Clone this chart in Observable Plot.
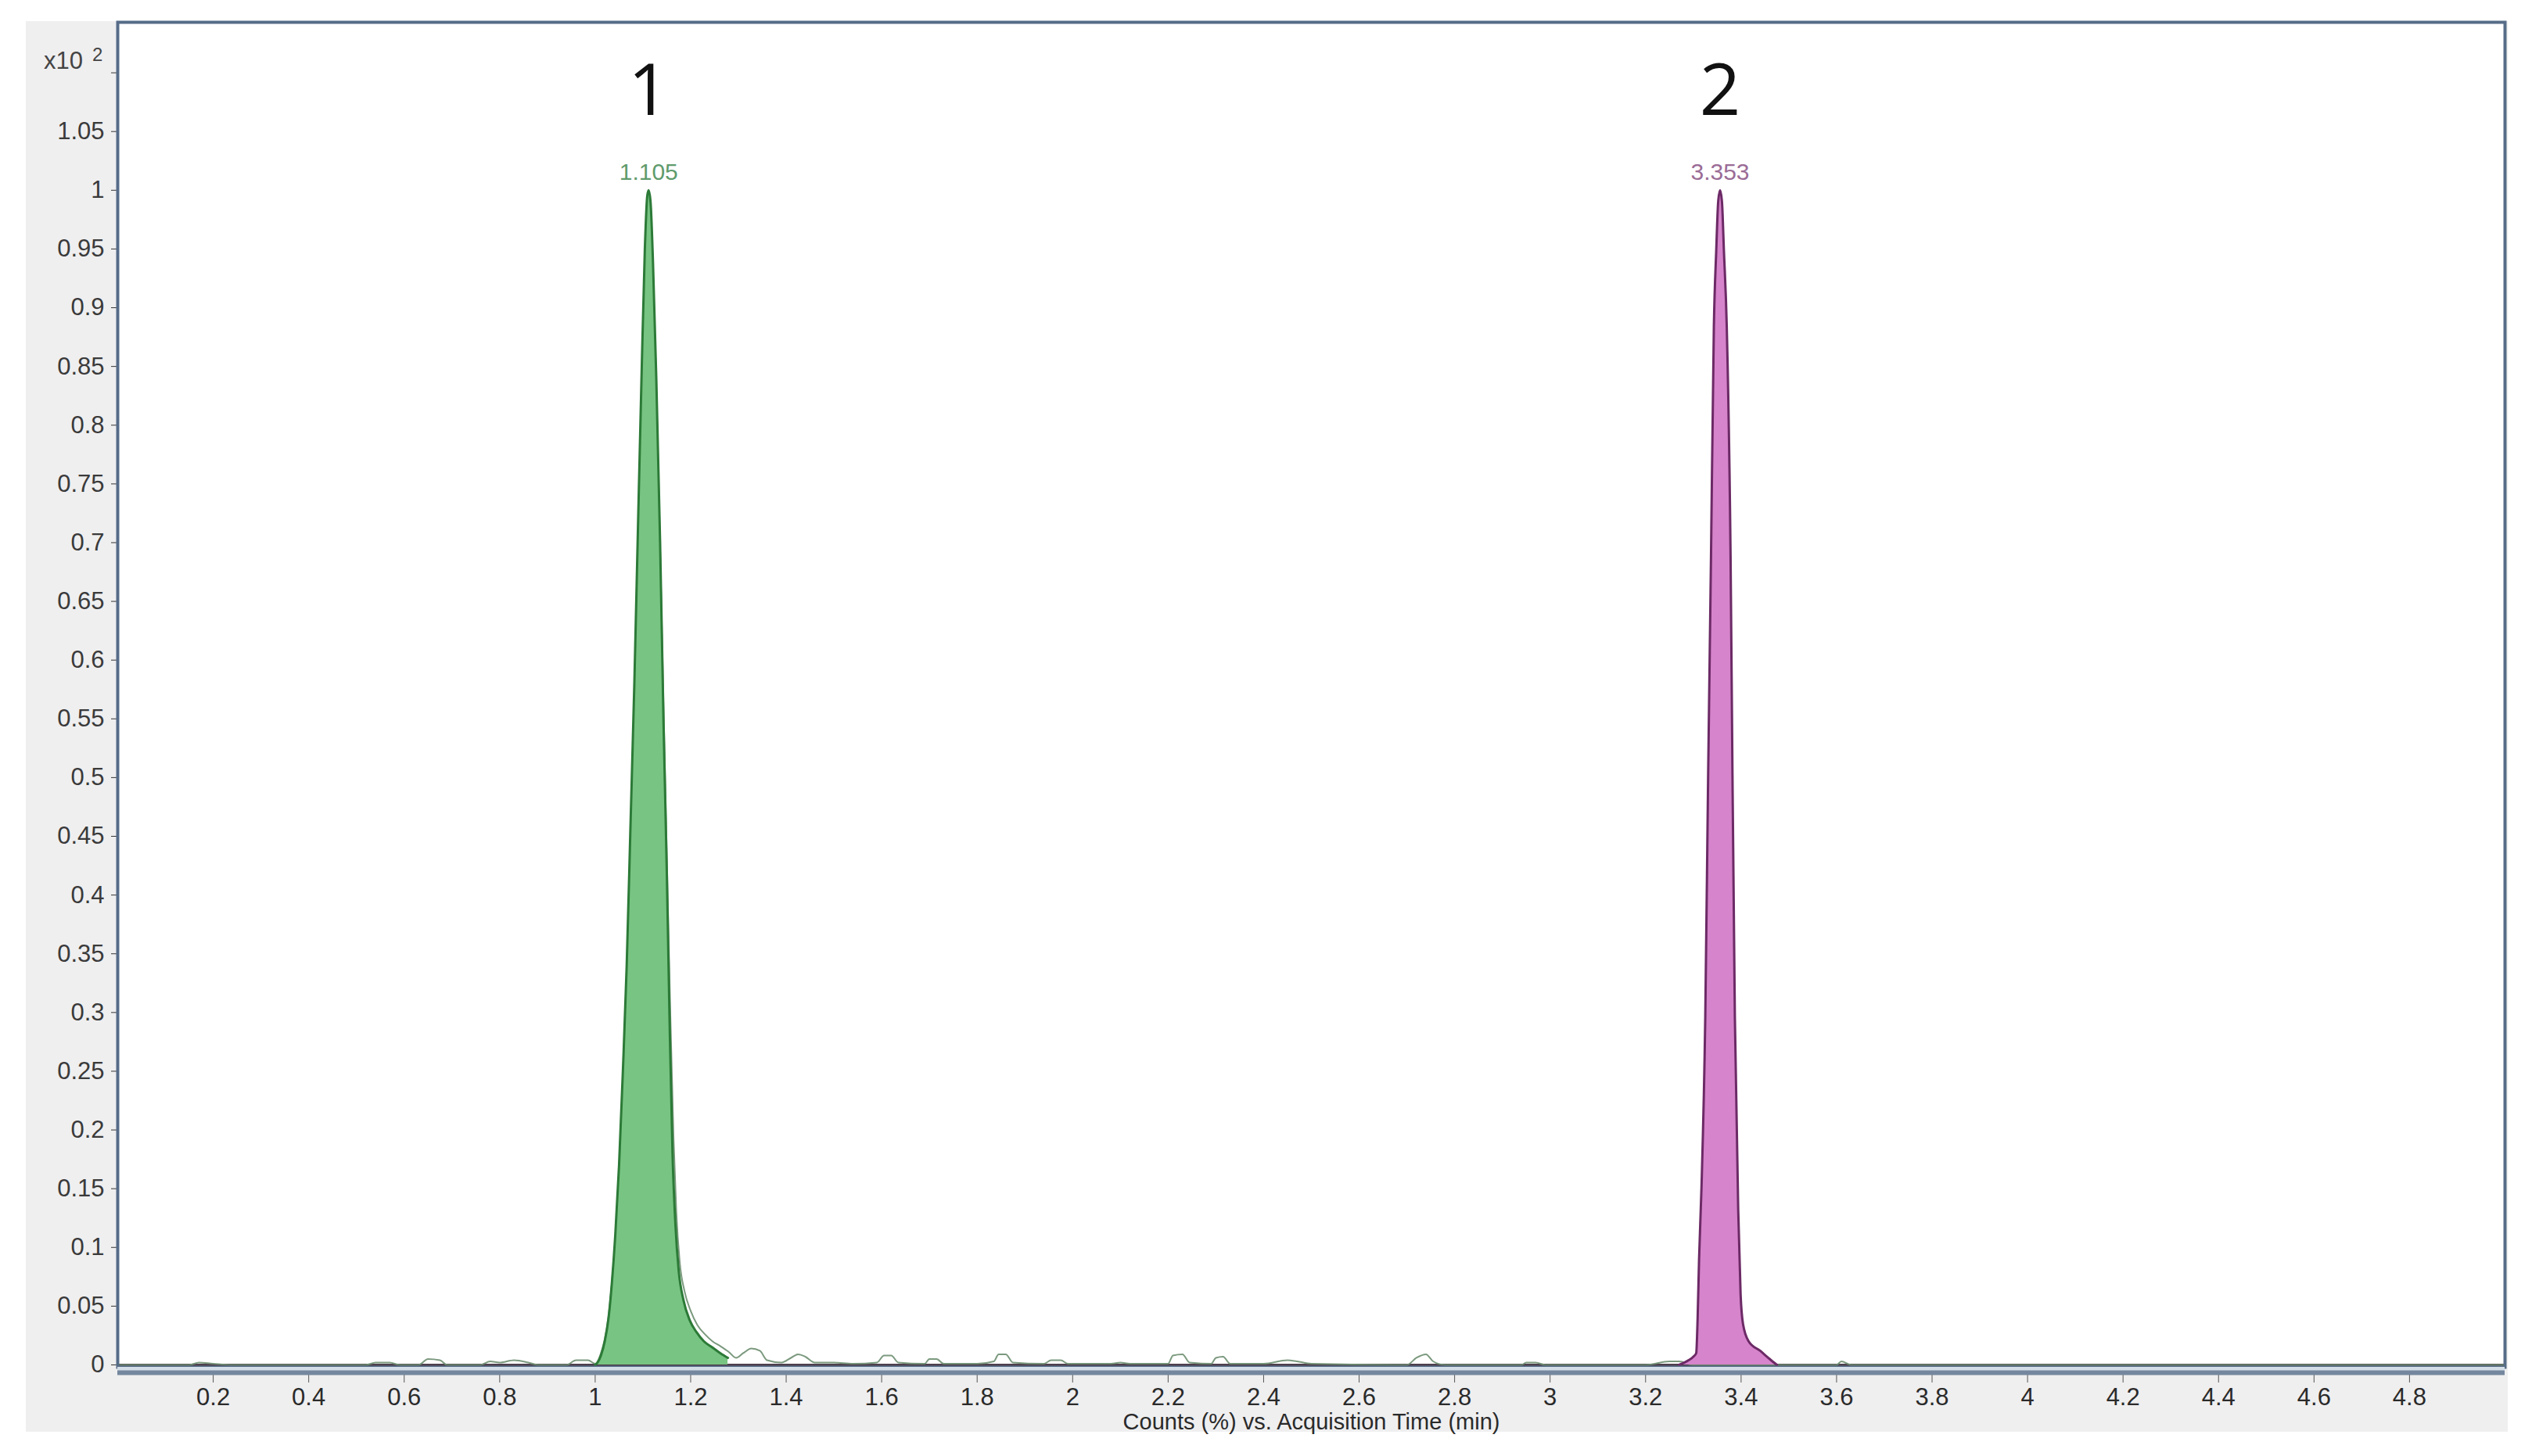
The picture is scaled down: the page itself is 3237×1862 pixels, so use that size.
<!DOCTYPE html>
<html>
<head>
<meta charset="utf-8">
<script src="https://cdn.jsdelivr.net/npm/d3@7"></script>
<script src="https://cdn.jsdelivr.net/npm/@observablehq/plot@0.6"></script>
<style>
  html, body { margin: 0; padding: 0; background: #ffffff; }
  #wrap { position: relative; width: 3237px; height: 1862px; overflow: hidden; }
  #panel { position: absolute; left: 33px; top: 27px; width: 3173px; height: 1804px; background: #efeff0; }
  #chart { position: absolute; left: 0; top: 0; }
  #expo { position: absolute; left: 56px; top: 60px; font-family: "Liberation Sans", Arial, sans-serif; font-size: 31px; color: #444; white-space: nowrap; }
  #expo sup { font-size: 24px; position: relative; top: -4px; margin-left: 12px; vertical-align: top; }
</style>
</head>
<body>
<div id="wrap">
  <div id="panel"></div>
  <div id="chart"></div>
  <div id="expo">x10<sup>2</sup></div>
</div>
<script>
// ---- Data ----
// Tick values
const xTicks = [0.2, 0.4, 0.6, 0.8, 1, 1.2, 1.4, 1.6, 1.8, 2, 2.2, 2.4, 2.6, 2.8, 3, 3.2, 3.4, 3.6, 3.8, 4, 4.2, 4.4, 4.6, 4.8];
const yTicks = [0, 0.05, 0.1, 0.15, 0.2, 0.25, 0.3, 0.35, 0.4, 0.45, 0.5, 0.55, 0.6, 0.65, 0.7, 0.75, 0.8, 0.85, 0.9, 0.95, 1, 1.05];

// Compound 1 (green, integrated peak) — time (min), counts (x10^2)
const peak1Time   = [1.000, 1.005, 1.012, 1.020, 1.028, 1.035, 1.042, 1.050, 1.058, 1.066, 1.074, 1.082, 1.090, 1.097, 1.104, 1.109, 1.112, 1.116, 1.121, 1.128, 1.136, 1.143, 1.150, 1.156, 1.162, 1.168, 1.175, 1.185, 1.198, 1.212, 1.228, 1.245, 1.262, 1.278];
const peak1Signal = [0.000, 0.002, 0.008, 0.020, 0.040, 0.070, 0.110, 0.170, 0.250, 0.340, 0.460, 0.580, 0.720, 0.840, 0.950, 0.995, 1.000, 0.990, 0.940, 0.840, 0.700, 0.550, 0.420, 0.290, 0.180, 0.120, 0.080, 0.055, 0.038, 0.028, 0.020, 0.015, 0.010, 0.006];

// Compound 2 (purple, integrated peak)
const peak2Time   = [3.270, 3.290, 3.300, 3.306, 3.309, 3.312, 3.317, 3.325, 3.331, 3.337, 3.343, 3.348, 3.352, 3.356, 3.360, 3.364, 3.370, 3.378, 3.382, 3.387, 3.394, 3.399, 3.404, 3.416, 3.440, 3.460, 3.475];
const peak2Signal = [0.000, 0.004, 0.007, 0.010, 0.040, 0.090, 0.150, 0.296, 0.502, 0.688, 0.884, 0.949, 0.990, 1.000, 0.990, 0.949, 0.884, 0.688, 0.502, 0.296, 0.132, 0.060, 0.035, 0.020, 0.012, 0.005, 0.000];

// Overlaid (qualifier) trace with baseline noise, drawn as outline only
const qualTime   = [0.00, 0.15, 0.17, 0.20, 0.24, 0.52, 0.54, 0.57, 0.59, 0.63, 0.65, 0.675, 0.69, 0.76, 0.78, 0.80, 0.83, 0.86, 0.88, 0.94, 0.96, 0.985, 1.000, 1.012, 1.020, 1.028, 1.036, 1.044, 1.052, 1.060, 1.068, 1.076, 1.084, 1.092, 1.099, 1.106, 1.111, 1.115, 1.120, 1.127, 1.135, 1.143, 1.150, 1.157, 1.164, 1.170, 1.177, 1.187, 1.200, 1.214, 1.230, 1.246, 1.262, 1.280, 1.295, 1.310, 1.327, 1.345, 1.360, 1.390, 1.410, 1.425, 1.440, 1.460, 1.500, 1.540, 1.590, 1.605, 1.620, 1.635, 1.690, 1.700, 1.715, 1.730, 1.800, 1.835, 1.845, 1.860, 1.875, 1.940, 1.955, 1.975, 1.990, 2.080, 2.100, 2.120, 2.200, 2.210, 2.230, 2.245, 2.290, 2.300, 2.315, 2.330, 2.400, 2.450, 2.470, 2.500, 2.700, 2.720, 2.740, 2.755, 2.780, 2.940, 2.950, 2.970, 2.990, 3.200, 3.250, 3.270, 3.300, 3.600, 3.610, 3.630, 5.000];
const qualSignal = [0.000, 0.000, 0.002, 0.001, 0.000, 0.000, 0.002, 0.002, 0.000, 0.000, 0.005, 0.004, 0.000, 0.000, 0.003, 0.002, 0.004, 0.002, 0.000, 0.000, 0.004, 0.004, 0.001, 0.010, 0.022, 0.042, 0.075, 0.118, 0.180, 0.260, 0.355, 0.475, 0.600, 0.735, 0.850, 0.955, 0.995, 0.990, 0.945, 0.850, 0.715, 0.565, 0.435, 0.305, 0.195, 0.130, 0.088, 0.063, 0.046, 0.034, 0.026, 0.020, 0.016, 0.011, 0.006, 0.010, 0.014, 0.012, 0.004, 0.002, 0.006, 0.009, 0.007, 0.002, 0.002, 0.001, 0.002, 0.008, 0.008, 0.002, 0.001, 0.005, 0.005, 0.001, 0.001, 0.003, 0.009, 0.009, 0.002, 0.001, 0.004, 0.004, 0.001, 0.001, 0.002, 0.001, 0.001, 0.008, 0.009, 0.002, 0.001, 0.006, 0.007, 0.001, 0.001, 0.004, 0.003, 0.001, 0.000, 0.006, 0.009, 0.003, 0.000, 0.000, 0.002, 0.002, 0.000, 0.000, 0.003, 0.003, 0.000, 0.000, 0.003, 0.000, 0.000];

// Peak annotations
const peakNumbers = ["1", "2"];
const peakRT = ["1.105", "3.353"];
const peakApexTime = [1.112, 3.356];
const peakApexSignal = [1.0, 1.0];

// ---- Build tables ----
const peak1 = peak1Time.map((t, i) => ({t, v: peak1Signal[i]}));
const peak2 = peak2Time.map((t, i) => ({t, v: peak2Signal[i]}));
const qual = qualTime.map((t, i) => ({t, v: qualSignal[i]}));
const labels = peakNumbers.map((n, i) => ({n, rt: peakRT[i], t: peakApexTime[i], v: peakApexSignal[i], color: i === 0 ? "#5f9b6c" : "#9a6c96"}));

const yMin = -0.002, yMax = 1.143;

const chart = Plot.plot({
  width: 3237,
  height: 1862,
  marginLeft: 150,
  marginRight: 35,
  marginTop: 28,
  marginBottom: 114,
  x: {domain: [0, 5.0], label: null},
  y: {domain: [yMin, yMax], label: null},
  style: {background: "transparent", fontFamily: "'Liberation Sans', Arial, sans-serif", fontSize: "31px", color: "#333"},
  marks: [
    Plot.frame({fill: "white", stroke: "none"}),
    Plot.ruleY([0], {stroke: "#4e3f4c", strokeWidth: 3}),
    Plot.line(qual, {x: "t", y: "v", stroke: "#6d8e70", strokeWidth: 2, strokeOpacity: 0.9, curve: "monotone-x"}),
    Plot.areaY(peak1, {x: "t", y: "v", fill: "#78c482", curve: "monotone-x"}),
    Plot.line(peak1, {x: "t", y: "v", stroke: "#2c7a37", strokeWidth: 3, curve: "monotone-x"}),
    Plot.areaY(peak2, {x: "t", y: "v", fill: "#d684cb", curve: "monotone-x"}),
    Plot.line(peak2, {x: "t", y: "v", stroke: "#6c2a66", strokeWidth: 3, curve: "monotone-x"}),
    Plot.axisY(yTicks, {label: null, tickSize: 8, tickPadding: 9, tickFormat: d => String(d), fontSize: 31, stroke: "#333", fill: "#3a3a3a"}),
    Plot.axisY([1.1], {label: null, tickSize: 8, tickFormat: () => "", stroke: "#333"}),
    Plot.axisX(xTicks, {label: null, tickSize: 20, tickPadding: 6, tickFormat: d => String(d), fontSize: 31, stroke: "#555", fill: "#2a2a2a"}),
    Plot.frame({stroke: "#566c88", strokeWidth: 4}),
    Plot.ruleY([yMin], {stroke: "#d3dde7", strokeWidth: 5, dy: 2}),
    Plot.ruleY([yMin], {stroke: "#74879e", strokeWidth: 6, dy: 7}),
    Plot.text(labels, {x: "t", y: "v", text: "rt", fill: "color", dy: -23, fontSize: 30, lineAnchor: "middle"}),
    Plot.text(labels, {x: "t", y: "v", text: "n", fill: "#111", dy: -126, fontSize: 92, lineAnchor: "middle", fontFamily: "'Open Sans', 'Noto Sans', sans-serif"}),
    Plot.text(["Counts (%) vs. Acquisition Time (min)"], {frameAnchor: "bottom", dy: 70, fontSize: 29, lineAnchor: "middle", fill: "#2a2a2a"})
  ]
});
document.getElementById("chart").appendChild(chart);
</script>
</body>
</html>
